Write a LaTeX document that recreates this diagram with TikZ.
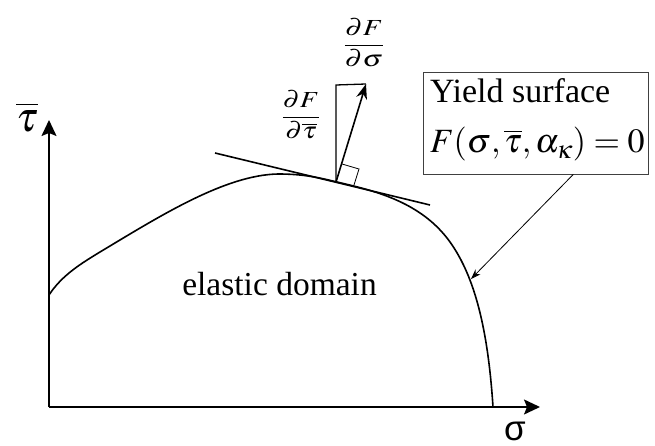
\documentclass[tikz,border=0pt]{standalone}
\usepackage{mathptmx}
\usepackage[no-math]{fontspec}
\setmainfont{Liberation Serif}
\newfontfamily\sansgr{Liberation Sans}
\usetikzlibrary{arrows.meta,calc}
\begin{document}
\begin{tikzpicture}[x=1pt,y=-1pt,
  axis/.style={line width=1.6pt,-{Stealth[length=16pt,width=15pt,inset=3pt]}},
  curvestyle/.style={line width=1.6pt},
  compline/.style={line width=1.3pt},
  thinline/.style={line width=0.8pt},
  lbl/.style={inner sep=0pt,outer sep=0pt}]
\useasboundingbox (0,0) rectangle (655,446);
% axes
\coordinate (O) at (49,407);
\coordinate (ytip) at (49,120);
\coordinate (xtip) at (540,407);
\draw[axis] (O) -- (ytip);
\draw[axis] (O) -- (xtip);
\node[lbl] (taulab) at (27,117) {\fontsize{42}{46}\selectfont$\overline{\tau}$};
\node[lbl,anchor=base] (siglab) at (515,440) {\fontsize{35}{40}\selectfont\sansgr σ};
% yield curve
\draw[curvestyle] (49,295) .. controls (62,275) and (82,263) .. (100,252)
  .. controls (160,216) and (225,175) .. (278,174)
  .. controls (305,174) and (320,178) .. (337,182)
  .. controls (370,190) and (420,200) .. (450,242)
  .. controls (475,277) and (488,330) .. (493,407);
% tangent
\coordinate (t1) at (215,153);
\coordinate (t2) at (430,205);
\draw[curvestyle] (t1) -- (t2);
% gradient
\coordinate (foot) at (336,182);
\coordinate (tipF) at (366,84);
\coordinate (corner) at (336,85);
\draw[compline] (foot) -- (corner) -- (tipF);
\draw[curvestyle,-{Stealth[length=15pt,width=11pt]}] (foot) -- (tipF);
\coordinate (sq1) at (342,164);
\coordinate (sq2) at (359,169);
\coordinate (sq3) at (354,185);
\draw[thinline] (sq1) -- (sq2) -- (sq3);
% labels
\node[lbl] (dFds) at (364,43) {\fontsize{23}{28}\selectfont\scalebox{1.25}[1]{$\displaystyle\frac{\partial F}{\partial\sigma}$}};
\node[lbl] (dFdt) at (301,115) {\fontsize{23}{28}\selectfont\scalebox{1.2}[1]{$\displaystyle\frac{\partial F}{\partial\overline{\tau}}$}};
\node[lbl,anchor=base] (elastic) at (279.5,295) {\fontsize{33.5}{40}\selectfont elastic domain};
% yield surface box
\node[draw=black!75,line width=0.9pt,minimum width=225pt,minimum height=102pt,inner sep=0pt] (box) at (535.5,123) {};
\node[lbl,anchor=base west] (ys) at (430,103) {\fontsize{34}{40}\selectfont Yield surface};
\node[lbl,anchor=base west] (eq) at (430,153) {\fontsize{34}{40}\selectfont$F(\sigma,\overline{\tau},\alpha_{\kappa})=0$};
\coordinate (ptr) at ($(box.south west)!0.667!(box.south east)$);
\coordinate (ontarget) at (471,279);
\draw[thinline,-{Stealth[length=10pt,width=7pt]}] (ptr) -- (ontarget);
\end{tikzpicture}
\end{document}
